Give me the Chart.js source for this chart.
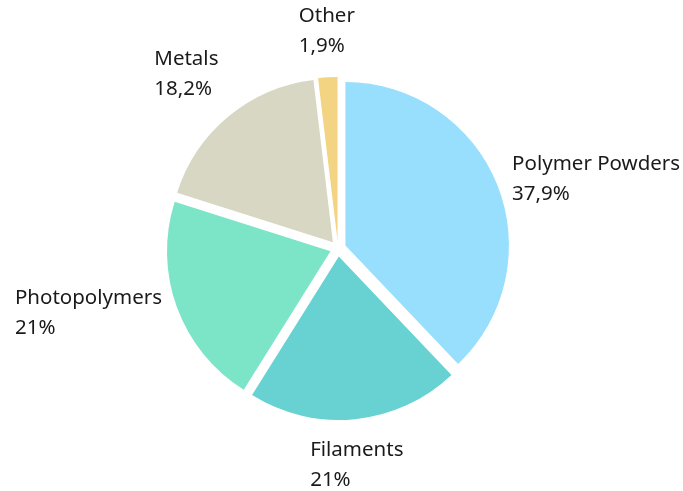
<!DOCTYPE html>
<html lang="en">
<head>
    <meta charset="UTF-8" />
    <title>Materials share</title>
    <style>
        html, body { margin: 0; padding: 0; background: #fff; }
        #wrap { width: 683px; height: 491px; }
    </style>
</head>
<body>
    <div id="wrap"><canvas id="chart-1" width="683" height="491"></canvas></div>

    <script src="https://cdn.jsdelivr.net/npm/chart.js"></script>
    <script>
        // Market share by material
        const materials = ["Polymer Powders", "Filaments", "Photopolymers", "Metals", "Other"];
        const shares = [37.9, 21, 21, 18.2, 1.9];
        const shareLabels = ["37,9%", "21%", "21%", "18,2%", "1,9%"];
        const colors = ["#97dffd", "#68d2d3", "#7de5c7", "#d8d7c4", "#f3d483"];

        const FONT = '20.5px "Noto Sans", sans-serif';
        const LINE = 30;
        const EXPLODE = 8; // px each slice is pulled out

        const midAngle = (arc) => {
            const p = arc.getProps(["startAngle", "endAngle"], true);
            return (p.startAngle + p.endAngle) / 2;
        };

        // pull every slice out along its bisector (built-in offset also grows the radius)
        const explode = {
            id: "explode",
            beforeDatasetDraw(chart, args) {
                const ctx = chart.ctx;
                args.meta.data.forEach(arc => {
                    const mid = midAngle(arc);
                    ctx.save();
                    ctx.translate(Math.cos(mid) * EXPLODE, Math.sin(mid) * EXPLODE);
                    arc.draw(ctx);
                    ctx.restore();
                });
                return false;
            }
        };

        // two-line labels outside each slice, block placed by slice direction
        const outsideLabels = {
            id: "outsideLabels",
            afterDatasetsDraw(chart) {
                const ctx = chart.ctx;
                const meta = chart.getDatasetMeta(0);
                ctx.save();
                ctx.font = FONT;
                ctx.fillStyle = "#1a1a1a";
                ctx.textAlign = "left";
                ctx.textBaseline = "middle";
                meta.data.forEach((arc, i) => {
                    const p = arc.getProps(["x", "y", "outerRadius"], true);
                    const mid = midAngle(arc);
                    const r = p.outerRadius + 24;
                    const ax = p.x + Math.cos(mid) * r;
                    const ay = p.y + Math.sin(mid) * r;
                    const lines = [materials[i], shareLabels[i]];
                    const w = Math.max(...lines.map(t => ctx.measureText(t).width));
                    const h = lines.length * LINE;
                    const c = Math.cos(mid), s = Math.sin(mid);
                    let left = c > 0.5 ? ax : c < -0.5 ? ax - w : ax - w / 2;
                    let top = s > 0.5 ? ay : s < -0.5 ? ay - h : ay - h / 2;
                    lines.forEach((t, k) => ctx.fillText(t, left, top + LINE / 2 + k * LINE));
                });
                ctx.restore();
            }
        };

        const ctx = document.getElementById("chart-1").getContext("2d");
        new Chart(ctx, {
            type: "pie",
            data: {
                labels: materials,
                datasets: [{
                    data: shares,
                    backgroundColor: colors,
                    borderWidth: 0,
                }],
            },
            options: {
                responsive: false,
                animation: false,
                radius: 163.5,
                layout: { padding: { top: 79, bottom: 73, left: 150, right: 157 } },
                plugins: {
                    legend: { display: false },
                    tooltip: { enabled: false },
                },
            },
            plugins: [explode, outsideLabels],
        });
    </script>
</body>
</html>
